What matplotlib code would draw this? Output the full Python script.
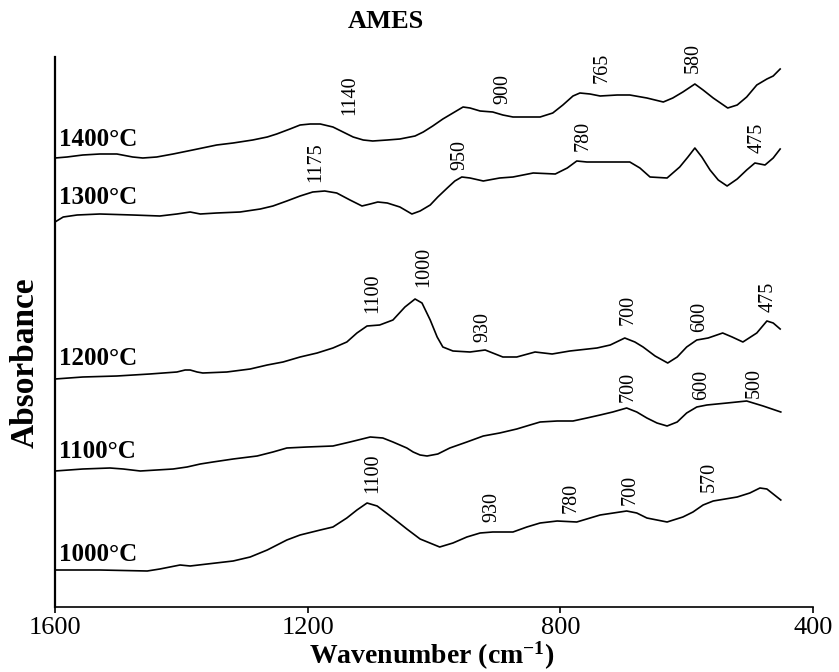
import matplotlib
matplotlib.use('Agg')
import matplotlib.pyplot as plt

plt.rcParams['font.family'] = ['Liberation Serif', 'DejaVu Serif']
plt.rcParams['mathtext.default'] = 'regular'

# spectra (wavenumber in cm-1, absorbance in a.u., already stacked)
wn_1400 = [1600, 1581, 1556, 1529, 1502, 1477, 1461, 1439, 1413, 1382, 1344, 1318, 1287,
           1264, 1249, 1228, 1212, 1196, 1180, 1160, 1144, 1128, 1112, 1097, 1074, 1054,
           1030, 1017, 1002, 986, 970, 954, 943, 927, 907, 891, 875, 853, 832, 812, 796,
           780, 769, 753, 737, 710, 690, 663, 637, 622, 606, 587, 574, 558, 535, 520, 505,
           489, 473, 463, 452]
ab_1400 = [449, 450, 452, 453, 453, 450, 449, 450, 453, 457, 462, 464, 467,
           470, 473, 478, 482, 483, 483, 480, 475, 470, 467, 466, 467, 468,
           471, 475, 481, 488, 494, 500, 499, 496, 495, 492, 490, 490, 490, 494, 502,
           511, 514, 513, 511, 512, 512, 509, 505, 509, 515, 523, 517, 509, 499, 502, 510,
           522, 528, 531, 538]

wn_1300 = [1600, 1587, 1565, 1529, 1477, 1434, 1407, 1386, 1370, 1344, 1307, 1275, 1255,
           1233, 1212, 1192, 1173, 1154, 1133, 1114, 1101, 1089, 1074, 1054, 1035, 1022,
           1006, 994, 979, 967, 956, 943, 922, 896, 875, 843, 808, 789, 774, 758, 726, 690,
           674, 658, 631, 611, 598, 587, 576, 563, 550, 536, 520, 505, 492, 476, 463, 452]
ab_1300 = [385, 390, 392, 393, 392, 391, 393, 395, 393, 394, 395, 398, 401,
           406, 411, 415, 416, 414, 407, 401, 403, 405, 404, 400, 393, 396,
           402, 410, 419, 426, 430, 429, 426, 429, 430, 434, 433, 439, 446, 445, 445, 445,
           439, 430, 429, 440, 450, 459, 450, 437, 427, 421, 428, 437, 444, 442, 449, 458]

wn_1200 = [1600, 1556, 1502, 1450, 1407, 1394, 1386, 1375, 1366, 1328, 1291, 1264, 1239,
           1212, 1185, 1160, 1138, 1122, 1106, 1086, 1065, 1046, 1030, 1019, 1006, 995,
           986, 970, 943, 919, 907, 891, 869, 840, 813, 785, 742, 721, 698, 682, 669, 650,
           630, 615, 600, 584, 566, 543, 528, 511, 489, 473, 463, 452]
ab_1200 = [228, 230, 231, 233, 235, 237, 237, 235, 234, 235, 238, 242, 245,
           250, 254, 259, 265, 274, 281, 282, 287, 300, 308, 304, 287, 270,
           260, 256, 255, 257, 254, 250, 250, 255, 253, 256, 259, 262, 269, 265, 260, 251,
           244, 250, 260, 267, 269, 274, 270, 265, 274, 286, 284, 278]

wn_1100 = [1600, 1556, 1513, 1492, 1465, 1439, 1413, 1391, 1370, 1350, 1318, 1280, 1255,
           1233, 1201, 1160, 1133, 1101, 1081, 1065, 1043, 1033, 1022, 1011, 994, 975,
           948, 922, 896, 869, 848, 832, 805, 780, 758, 737, 717, 695, 679, 663, 647, 631,
           615, 600, 584, 568, 536, 505, 479, 451]
ab_1100 = [136, 138, 139, 138, 136, 137, 138, 140, 143, 145, 148, 151, 155,
           159, 160, 161, 165, 170, 169, 165, 159, 155, 152, 151, 153, 159,
           165, 171, 174, 178, 182, 185, 186, 186, 189, 192, 195, 199, 195, 189, 184, 181,
           185, 194, 200, 202, 204, 206, 201, 195]

wn_1000 = [1600, 1529, 1454, 1434, 1418, 1402, 1386, 1359, 1318, 1291, 1264, 1233, 1212,
           1180, 1160, 1138, 1122, 1106, 1090, 1065, 1043, 1022, 991, 970, 948, 927, 907,
           875, 853, 832, 805, 774, 737, 695, 679, 663, 631, 606, 590, 574, 558, 520, 500,
           484, 473, 451]
ab_1000 = [37, 37, 36, 38, 40, 42, 41, 43, 46, 50, 57, 67, 72,
           77, 80, 89, 97, 104, 101, 89, 78, 68, 60, 64, 70, 74, 75,
           75, 80, 84, 86, 85, 92, 96, 94, 89, 85, 90, 95, 102, 106, 110, 114,
           119, 118, 107]

temps = ['1400°C', '1300°C', '1200°C', '1100°C', '1000°C']
temp_y = [461, 403, 242, 149, 46]

# band labels: text, x (cm-1), bottom of label (a.u.)
peak_text = ['1140', '900', '765', '580',
             '1175', '950', '780', '475',
             '1100', '1000', '930', '700', '600', '475',
             '700', '600', '500',
             '1100', '930', '780', '700', '570']
peak_x = [1133, 891, 734, 590,
          1187, 959, 764, 489,
          1097, 1016, 922, 693, 579, 471,
          693, 576, 493,
          1097, 908, 783, 690, 565]
peak_y = [492, 503, 524, 534,
          425, 437, 456, 454,
          294, 320, 265, 282, 275, 295,
          205, 207, 209,
          114, 85, 94, 102, 115]

fig = plt.figure(figsize=(8.39, 6.72), dpi=100)
ax = fig.add_axes([55/839, 65/672, 758/839, 550/672])

for wn, ab in [(wn_1400, ab_1400), (wn_1300, ab_1300), (wn_1200, ab_1200),
               (wn_1100, ab_1100), (wn_1000, ab_1000)]:
    ax.plot(wn, ab, color='black', lw=1.2, solid_joinstyle='round')

for t, y in zip(temps, temp_y):
    ax.text(1594, y, t, fontsize=18, fontweight='bold', ha='left', va='baseline')

for t, x, y in zip(peak_text, peak_x, peak_y):
    ax.text(x, y, t, fontsize=14.5, rotation=90, ha='center', va='bottom')

ax.set_xlim(1600, 400)
ax.set_ylim(0, 550)
ax.set_xticks([1600, 1200, 800, 400])
ax.set_yticks([])
ax.tick_params(axis='x', direction='out', length=4, width=1.2, labelsize=19, pad=3)
ax.spines['top'].set_visible(False)
ax.spines['right'].set_visible(False)
ax.spines['left'].set_linewidth(1.6)
ax.spines['bottom'].set_linewidth(1.2)

fig.text(386/839, (672-22)/672, 'AMES', fontsize=19, fontweight='bold',
         ha='center', va='center')
fig.text(432/839, (672-664)/672, 'Wavenumber (cm$^{-1}$)', fontsize=20,
         fontweight='bold', ha='center', va='baseline')
fig.text(25/839, (672-363)/672, 'Absorbance', fontsize=24, fontweight='bold',
         rotation=90, ha='center', va='center')

fig.savefig('out.png', dpi=100)
